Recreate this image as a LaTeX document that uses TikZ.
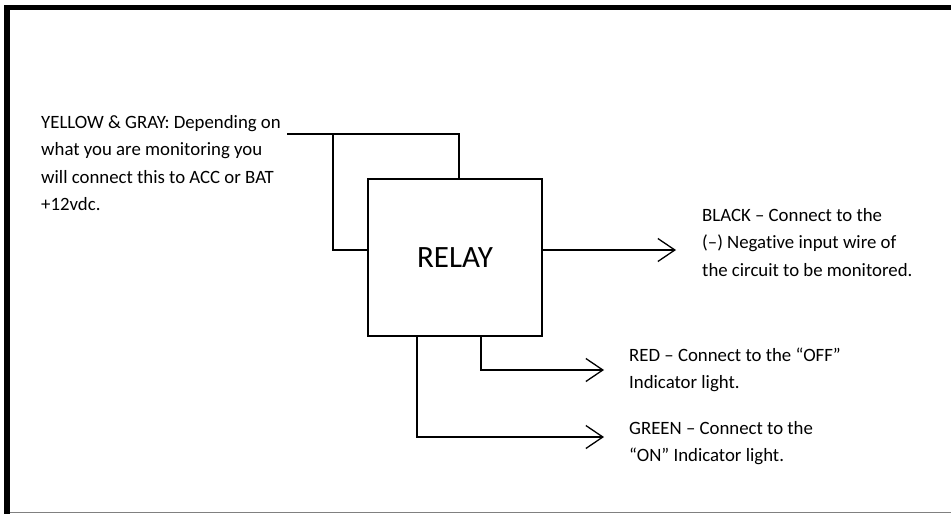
\documentclass[tikz,border=0pt]{standalone}
\usepackage{fontspec}
\setmainfont[Ligatures={NoCommon,NoRare}]{Carlito}
\usetikzlibrary{arrows.meta}
\tikzset{
  wire/.style={line width=1.3pt},
  arr/.style={line width=1.3pt, -{Straight Barb[length=17pt,width=23pt,line width=1.3pt]}},
  relaybox/.style={draw, line width=2.2pt, minimum width=174pt, minimum height=157pt, inner sep=0pt, font=\fontsize{31}{36}\selectfont},
  lbl/.style={anchor=base west, align=left, inner sep=0pt, font=\fontsize{18.8}{27.5}\selectfont},
}
\begin{document}
\begin{tikzpicture}[x=1pt,y=-1pt]
\useasboundingbox (0,0) rectangle (951,514);
% frame
\draw[line width=5.5pt] (7,514) -- (7,7.5) -- (951,7.5);
\draw[line width=1pt, color=black!50] (10,512.5) -- (951,512.5);
% relay
\node[relaybox] (relay) at (455,257.5) {RELAY};
% labels (anchored at the baseline of the last line)
\node[lbl] (yel) at (41,210.5) {YELLOW \& GRAY: Depending on\\what you are monitoring you\\will connect this to ACC or BAT\\+12vdc.};
\node[lbl] (blk) at (702,276) {BLACK – Connect to the\\(–) Negative input wire of\\the circuit to be monitored.};
\node[lbl] (red) at (629,388.5) {RED – Connect to the “OFF”\\Indicator light.};
\node[lbl] (grn) at (629,461.5) {GREEN – Connect to the\\“ON” Indicator light.};
% coordinates
\coordinate (yin) at (287,134);
\coordinate (j1) at (459,134);
\coordinate (j2) at (333,134);
\coordinate (j3) at (333,250);
\coordinate (bt) at (676,250);
\coordinate (rb) at (481,370);
\coordinate (rt) at (604,370);
\coordinate (gb) at (417,437);
\coordinate (gt) at (604,437);
% wires
\draw[wire] (yin) -- (j1) -- (j1 |- relay.north);
\draw[wire] (j2) -- (j3) -- (j3 -| relay.west);
\draw[arr] (relay.east |- j3) -- (bt);
\draw[arr] (rb |- relay.south) -- (rb) -- (rt);
\draw[arr] (gb |- relay.south) -- (gb) -- (gt);
\end{tikzpicture}
\end{document}
